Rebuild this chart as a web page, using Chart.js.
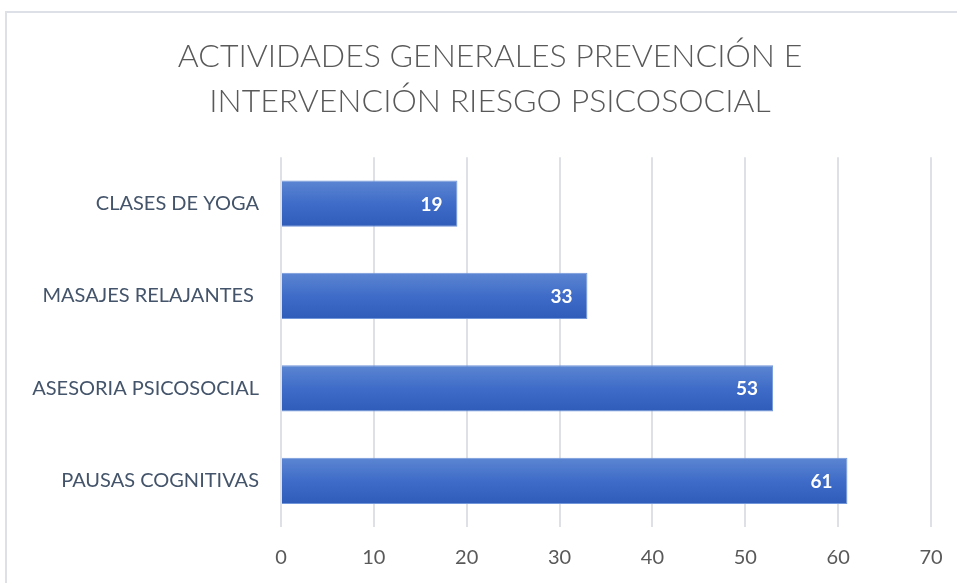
<!DOCTYPE html>
<html>
<head>
<meta charset="utf-8">
<script src="https://cdn.jsdelivr.net/npm/chart.js@4"></script>
<style>
  html, body { margin: 0; padding: 0; background: #fff; overflow: hidden; }
  #frame { position: absolute; left: 5px; top: 11px; width: 1000px; height: 620px; border: 2px solid #DDE0E6; }
  #wrap { position: absolute; left: 0; top: 0; width: 957px; height: 583px; }
</style>
</head>
<body>
<div id="frame"></div>
<div id="wrap"><canvas id="barChart"></canvas></div>
<script>
// Chart data
const categories = ['CLASES DE YOGA', 'MASAJES RELAJANTES ', 'ASESORIA PSICOSOCIAL', 'PAUSAS COGNITIVAS'];
const values = [19, 33, 53, 61];
const titleLines = ['ACTIVIDADES GENERALES PREVENCIÓN E', 'INTERVENCIÓN RIESGO PSICOSOCIAL'];
const xTicks = [0, 10, 20, 30, 40, 50, 60, 70];

// Vertical gradient for each bar, based on where the y scale puts it
const barFill = (context) => {
    const chart = context.chart;
    const yScale = chart.scales.y;
    if (!yScale || !chart.chartArea) return '#4472C4';
    const center = yScale.getPixelForValue(context.dataIndex);
    const half = yScale.getPixelForValue(1) - yScale.getPixelForValue(0);
    const g = chart.ctx.createLinearGradient(0, center - half / 4, 0, center + half / 4);
    g.addColorStop(0, '#5C86D2');
    g.addColorStop(0.5, '#3F6CC8');
    g.addColorStop(1, '#2E5CB8');
    return g;
};

// Values drawn inside the end of each bar
const valueLabels = {
    id: 'valueLabels',
    afterDatasetsDraw(chart) {
        const ctx = chart.ctx;
        const meta = chart.getDatasetMeta(0);
        ctx.save();
        ctx.fillStyle = '#ffffff';
        ctx.font = 'bold 19px Lato, "Open Sans", sans-serif';
        ctx.textAlign = 'right';
        ctx.textBaseline = 'middle';
        meta.data.forEach((bar, i) => {
            ctx.fillText(String(values[i]), bar.x - 15, bar.y + 1);
        });
        ctx.restore();
    }
};

// Title in the original sits a bit right of the canvas centre
const shiftTitle = {
    id: 'shiftTitle',
    afterLayout(chart) {
        if (chart.titleBlock) {
            chart.titleBlock.left = 24;
            chart.titleBlock.right = 956;
        }
    }
};

const ctx = document.getElementById('barChart').getContext('2d');
new Chart(ctx, {
    type: 'bar',
    data: {
        labels: categories,
        datasets: [{
            data: values,
            backgroundColor: barFill,
            borderColor: '#7196DA',
            borderWidth: 1,
            categoryPercentage: 1,
            barPercentage: 0.5
        }]
    },
    options: {
        indexAxis: 'y',
        responsive: true,
        maintainAspectRatio: false,
        animation: false,
        layout: { padding: { left: 0, right: 26, top: 0, bottom: 0 } },
        plugins: {
            legend: { display: false },
            tooltip: { enabled: false },
            title: {
                display: true,
                text: titleLines,
                color: '#595959',
                font: { family: 'Lato, "Open Sans", sans-serif', size: 32, weight: 300, lineHeight: 1.38 },
                padding: { top: 35, bottom: 34 }
            }
        },
        scales: {
            x: {
                min: 0,
                max: 70,
                afterBuildTicks: (scale) => { scale.ticks = xTicks.map(v => ({ value: v })); },
                afterFit: (scale) => {
                    scale.height = 56;
                    scale.paddingLeft = 0;
                    scale.paddingRight = 0;
                },
                grid: { color: '#DDE0E6', lineWidth: 2, drawTicks: false },
                border: { display: false },
                ticks: {
                    color: '#595959',
                    padding: 19,
                    font: { family: 'Lato, "Open Sans", sans-serif', size: 20 }
                }
            },
            y: {
                afterFit: (scale) => { scale.width = 281; },
                grid: { display: false, drawTicks: false },
                border: { display: false },
                ticks: {
                    color: '#44546A',
                    padding: 22,
                    font: { family: 'Lato, "Open Sans", sans-serif', size: 20 }
                }
            }
        }
    },
    plugins: [valueLabels, shiftTitle]
});
</script>
</body>
</html>
